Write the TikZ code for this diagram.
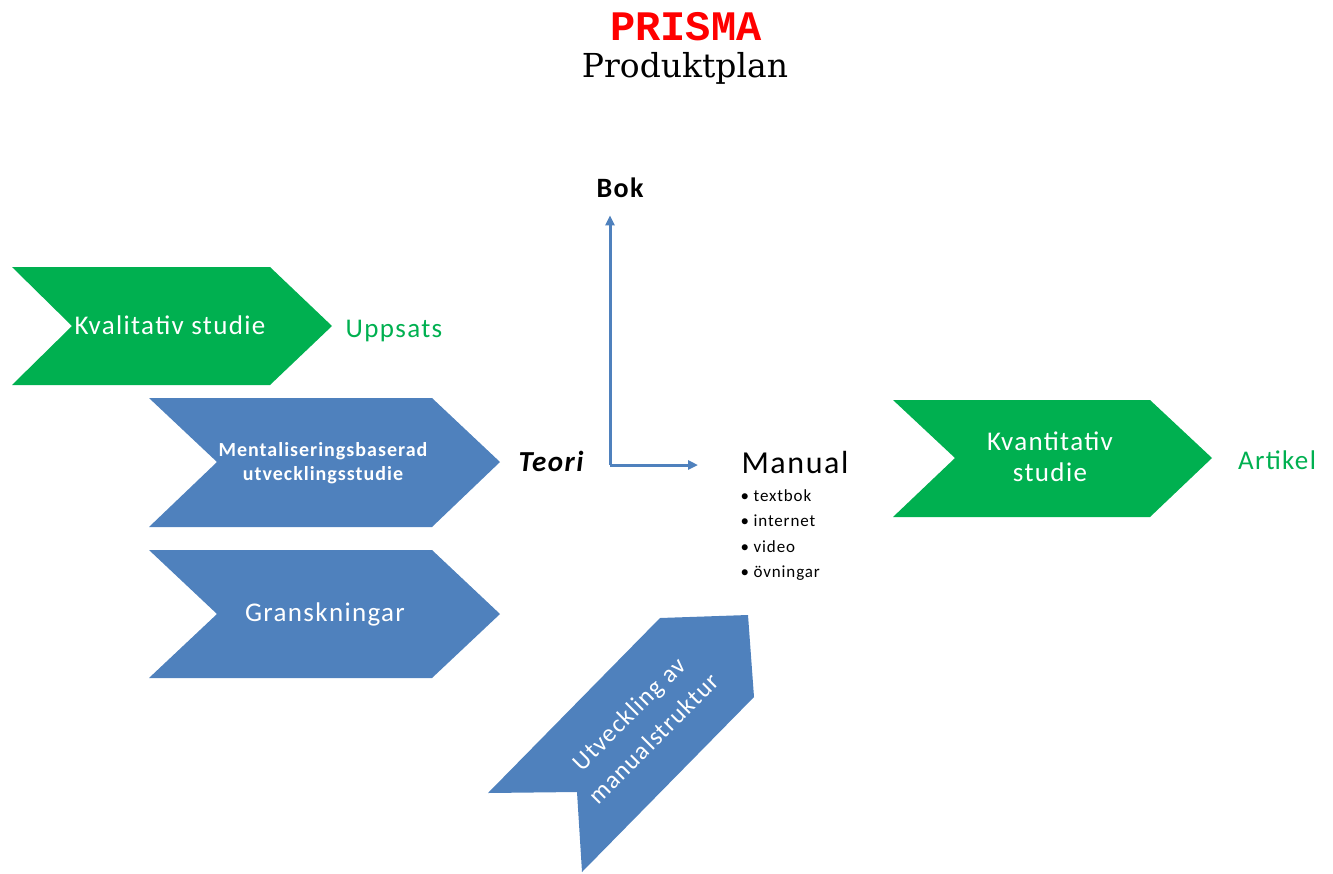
\documentclass[tikz,border=0pt]{standalone}
\usepackage{fontspec}
\setmainfont{Carlito}[LetterSpace=5]
\newfontfamily\titlefont{Liberation Mono}
\newfontfamily\planfont{DejaVu Serif}
\usetikzlibrary{arrows.meta}

\definecolor{prgreen}{HTML}{00B050}
\definecolor{prblue}{HTML}{4F81BD}

\begin{document}
\begin{tikzpicture}[x=1pt, y=-1pt,
    boxtext/.style={text=white, align=center},
    outtext/.style={text=prgreen, font=\fontsize{27}{31}\selectfont},
    link/.style={-{Triangle[length=10pt, width=9pt]}, prblue, line width=3pt}]

    % Frame
    \useasboundingbox (0,0) rectangle (1333,873);

    % Title
    \node[text=red, font=\titlefont\bfseries\fontsize{42}{46}\selectfont] (prisma) at (686,27) {PRISMA};
    \node[font=\planfont\fontsize{33}{38}\selectfont] (plan) at (685,68) {Produktplan};

    % Chevrons, green
    \fill[prgreen] (12,267) -- (270,267) -- (332,326) -- (270,385) -- (12,385) -- (72,326) -- cycle;
    \fill[prgreen] (893,400) -- (1150,400) -- (1212,458) -- (1150,517) -- (893,517) -- (955,458) -- cycle;

    % Chevrons, blue
    \fill[prblue] (149,398) -- (432,398) -- (500,462) -- (432,527) -- (149,527) -- (217,462) -- cycle;
    \fill[prblue] (149,550) -- (432,550) -- (500,614) -- (432,678) -- (149,678) -- (217,614) -- cycle;
    \fill[prblue] (660,618) -- (748,615) -- (754,697) -- (582,872) -- (577,792) -- (488,793) -- cycle;

    % Texts in chevrons
    \node[boxtext, font=\fontsize{27}{31}\selectfont] (kval) at (170,325) {Kvalitativ studie};
    \node[boxtext, font=\bfseries\fontsize{20}{24}\selectfont] (ment) at (323,463) {Mentaliseringsbaserad\\utvecklingsstudie};
    \node[boxtext, font=\fontsize{27}{31}\selectfont] (gransk) at (325,614) {Granskningar};
    \node[boxtext, font=\fontsize{27}{31}\selectfont] (kvant) at (1050,457) {Kvantitativ\\studie};
    \node[boxtext, font=\fontsize{25}{35}\selectfont, rotate=45] (utv) at (641,726) {Utveckling av\\manualstruktur};

    % Products
    \node[outtext] (uppsats) at (394,331) {Uppsats};
    \node[outtext] (artikel) at (1277,460) {Artikel};
    \node[font=\itshape\bfseries\fontsize{29}{33}\selectfont] (teori) at (551,461) {Teori};
    \node[font=\bfseries\fontsize{28}{32}\selectfont] (bok) at (620,188) {Bok};
    \node[font=\fontsize{32}{36}\selectfont, anchor=west] (manual) at (738,462) {Manual};
    \node[font=\fontsize{17}{25.5}\selectfont, align=left, anchor=north west] (items) at (737,486)
        {\textbullet\ textbok\\\textbullet\ internet\\\textbullet\ video\\\textbullet\ övningar};

    % Arrows
    \coordinate (split) at (610,465);
    \draw[link] (split) -- (split |- bok.south) [shorten >=14pt];
    \draw[link] (split) -- ++(88,0);

\end{tikzpicture}
\end{document}
